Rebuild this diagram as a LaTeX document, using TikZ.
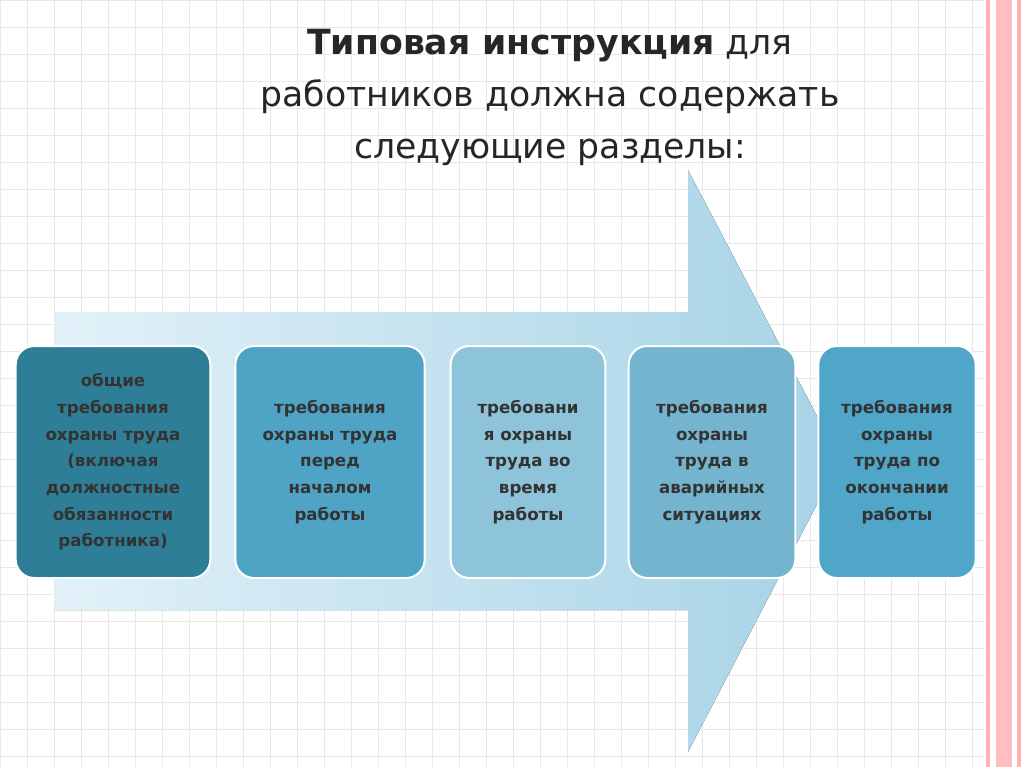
\documentclass[tikz,border=0pt]{standalone}
\usepackage{fontspec}
\setmainfont{DejaVu Sans}
\definecolor{c1}{HTML}{2F7E97}
\definecolor{c2}{HTML}{4FA3C4}
\definecolor{c3}{HTML}{8EC4D9}
\definecolor{c4}{HTML}{74B4CE}
\definecolor{c5}{HTML}{4FA6C8}
\definecolor{al}{HTML}{E2F1F8}
\definecolor{ar}{HTML}{A6D3E6}
\begin{document}
\begin{tikzpicture}[x=0.75pt,y=-0.75pt,
 box/.style={rounded corners=14pt,draw=white,line width=1.5pt,minimum height=174pt,align=center,font=\bfseries\fontsize{12.5}{20}\selectfont,text=black!80,inner sep=1pt}]
\fill[white] (0,0) rectangle (1024,767);
\useasboundingbox (0,0) rectangle (1024,767);
\foreach \x in {0,27,...,980} \draw[black!9] (\x,0) -- (\x,767);
\foreach \y in {0,27,...,767} \draw[black!9] (0,\y) -- (985,\y);
\fill[red!30] (986,0) rectangle (990,767);
\fill[red!25] (996,0) rectangle (1012,767);
\fill[red!30] (1017,0) rectangle (1021,767);
% arrow
\fill[left color=al,right color=ar] (55,312) -- (688,312) -- (688,170) -- (840,460) -- (688,752) -- (688,610) -- (55,610) -- cycle;
% title
\node[align=center,font=\fontsize{26}{39}\selectfont,text=black!85] (t) at (550,97) {\textbf{Типовая инструкция} для\\работников должна содержать\\следующие разделы:};
\node[box,fill=c1,minimum width=146pt] (b1) at (113,462) {общие\\требования\\охраны труда\\(включая\\должностные\\обязанности\\работника)};
\node[box,fill=c2,minimum width=142pt] (b2) at (330,462) {требования\\охраны труда\\перед\\началом\\работы};
\node[box,fill=c3,minimum width=116pt] (b3) at (528,462) {требовани\\я охраны\\труда во\\время\\работы};
\node[box,fill=c4,minimum width=125pt] (b4) at (712,462) {требования\\охраны\\труда в\\аварийных\\ситуациях};
\node[box,fill=c5,minimum width=118pt] (b5) at (897,462) {требования\\охраны\\труда по\\окончании\\работы};
\end{tikzpicture}
\end{document}
